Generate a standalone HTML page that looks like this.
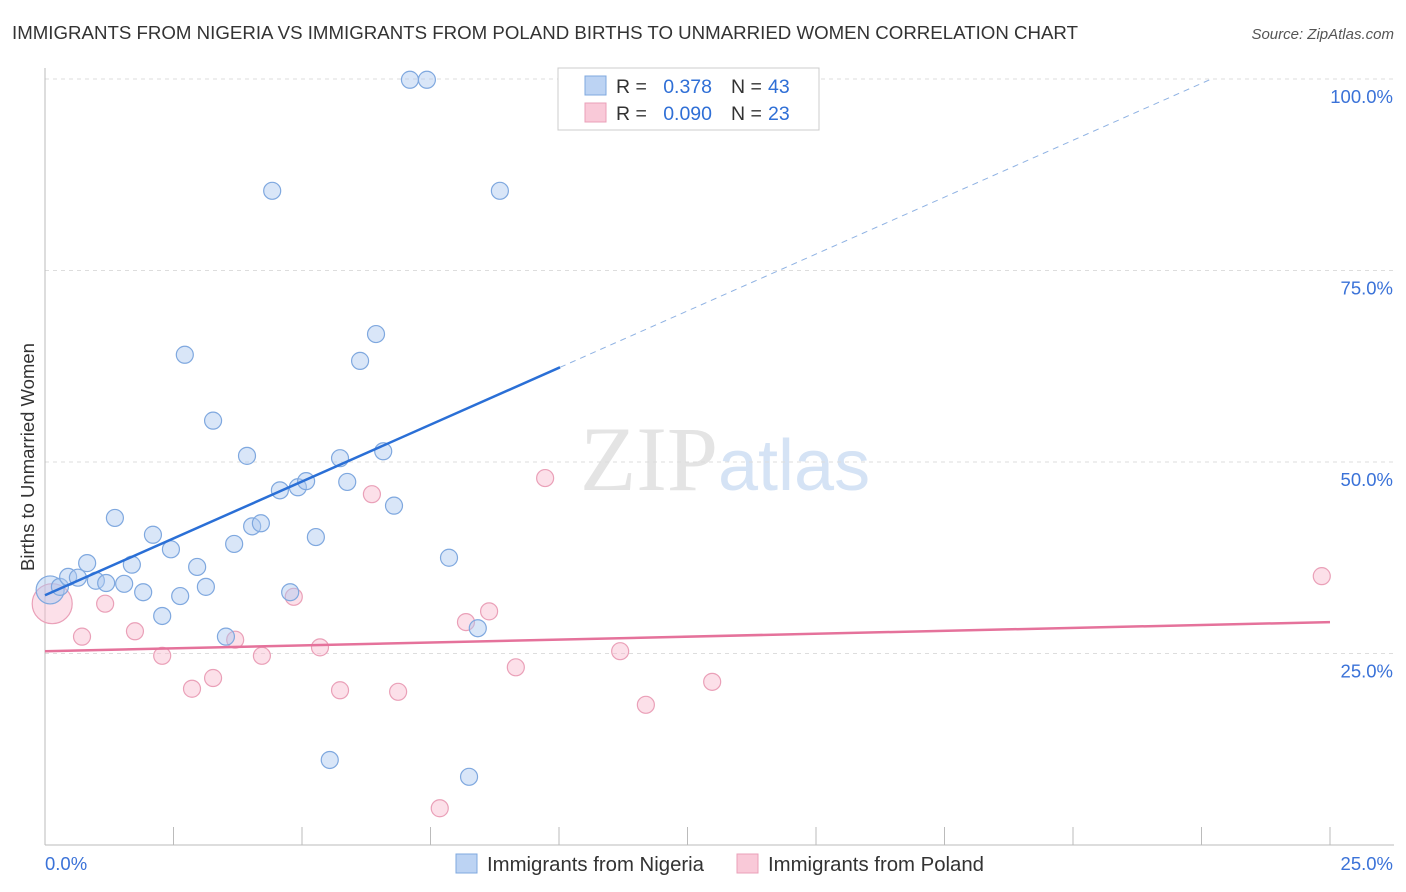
<!DOCTYPE html>
<html><head><meta charset="utf-8"><style>
body{margin:0;background:#fff;font-family:"Liberation Sans",sans-serif;}
svg{display:block}
</style></head><body>
<svg id="c" width="1406" height="892"></svg>
<script>
const nigeriaX=[0.10,0.29,0.45,0.64,0.82,0.99,1.19,1.36,1.54,1.69,1.91,2.10,2.28,2.45,2.63,2.72,2.96,3.13,3.27,3.52,3.68,3.93,4.03,4.20,4.42,4.57,4.77,4.92,5.08,5.27,5.54,5.74,5.88,6.13,6.44,6.58,6.79,7.10,7.43,7.86,8.25,8.42,8.85];
const nigeriaY=[33.3,33.7,35.0,34.9,36.8,34.5,34.2,42.7,34.1,36.6,33.0,40.5,29.9,38.6,32.5,64.0,36.3,33.7,55.4,27.2,39.3,50.8,41.6,42.0,85.4,46.3,33.0,46.7,47.5,40.2,11.1,50.5,47.4,63.2,66.7,51.4,44.3,99.9,99.9,37.5,8.9,28.3,85.4];
const polandX=[0.14,0.72,1.17,1.75,2.28,2.86,3.27,3.70,4.22,4.84,5.35,5.74,6.36,6.87,7.68,8.19,8.64,9.16,9.73,11.19,11.69,12.98,24.84];
const polandY=[31.5,27.2,31.5,27.9,24.7,20.4,21.8,26.8,24.7,32.4,25.8,20.2,45.8,20.0,4.8,29.1,30.5,23.2,47.9,25.3,18.3,21.3,35.1];
const yTicks=[25,50,75,100];
const yTickLabels=["25.0%","50.0%","75.0%","100.0%"];
const blueLine=[32.6,2.97]; // intercept, slope
const pinkLine=[25.3,29.1];

const NS="http://www.w3.org/2000/svg";
const svg=document.getElementById('c');
const X=v=>45+v/25*1285, Y=v=>845-v/100*766;
function el(t,a,txt){const e=document.createElementNS(NS,t);for(const k in a)e.setAttribute(k,a[k]);if(txt!==undefined)e.textContent=txt;svg.appendChild(e);return e;}
let e;
e=el('text',{x:12,y:39,'font-size':18.5,fill:'#333',textLength:1066,lengthAdjust:'spacingAndGlyphs'},'IMMIGRANTS FROM NIGERIA VS IMMIGRANTS FROM POLAND BIRTHS TO UNMARRIED WOMEN CORRELATION CHART');

e=el('text',{x:1394,y:39,'font-size':15,fill:'#555','font-style':'italic','text-anchor':'end'},'Source: ZipAtlas.com');

e=el('text',{x:718,y:490,'font-size':92,fill:'#e4e4e4','font-family':'Liberation Serif','text-anchor':'end'},'ZIP');

e=el('text',{x:718,y:490,'font-size':72,fill:'#d5e3f5'},'atlas');

yTicks.forEach((t,i)=>{
 e=el('line',{x1:45,x2:1394,y1:Y(t),y2:Y(t),stroke:'#ddd','stroke-dasharray':'4,4'});
 
 e=el('text',{x:1393,y:Y(t)+24,'font-size':18.5,fill:'#3a72d8','text-anchor':'end'},yTickLabels[i]);
 
});
e=el('line',{x1:45,x2:45,y1:68,y2:845,stroke:'#bbb'});
e=el('line',{x1:45,x2:1394,y1:845,y2:845,stroke:'#bbb'});
for(let i=1;i<=10;i++){e=el('line',{x1:X(i*2.5),x2:X(i*2.5),y1:827,y2:845,stroke:'#bbb'});}
e=el('text',{x:45,y:870,'font-size':18.5,fill:'#3a72d8'},'0.0%');
e=el('text',{x:1393,y:870,'font-size':18.5,fill:'#3a72d8','text-anchor':'end'},'25.0%');
e=el('text',{x:34,y:457,'font-size':18.5,fill:'#333','text-anchor':'middle',transform:'rotate(-90 34 457)'},'Births to Unmarried Women');

polandX.forEach((x,i)=>{const r=i==0?20:8.5;e=el('circle',{cx:X(x),cy:Y(polandY[i]),r:r,fill:'rgba(248,186,206,0.45)',stroke:'#eaa0b8','stroke-width':1.2});
 });
nigeriaX.forEach((x,i)=>{const r=i==0?14:8.5;e=el('circle',{cx:X(x),cy:Y(nigeriaY[i]),r:r,fill:'rgba(170,200,240,0.45)',stroke:'#7fa8df','stroke-width':1.2});
 });
const bx1=10.02, bx2=(100-blueLine[0])/blueLine[1];
e=el('line',{x1:X(0),y1:Y(blueLine[0]),x2:X(bx1),y2:Y(blueLine[0]+blueLine[1]*bx1),stroke:'#2a6fd6','stroke-width':2.5});

e=el('line',{x1:X(bx1),y1:Y(blueLine[0]+blueLine[1]*bx1),x2:X(bx2),y2:Y(100),stroke:'#8fb2e3','stroke-width':1,'stroke-dasharray':'6,5'});

e=el('line',{x1:X(0),y1:Y(pinkLine[0]),x2:X(25),y2:Y(pinkLine[1]),stroke:'#e5729b','stroke-width':2.5});

e=el('rect',{x:558,y:68,width:261,height:62,fill:'#fff',stroke:'#ccc'});
e=el('rect',{x:585,y:76,width:21,height:19,fill:'#bcd3f3',stroke:'#7fa8df'});
e=el('rect',{x:585,y:103,width:21,height:19,fill:'#f9c9d8',stroke:'#eaa0b8'});
[[93,'0.378','43'],[120,'0.090','23']].forEach(r=>{
 e=el('text',{x:616,y:r[0],'font-size':19.5,fill:'#333'},'R = ');
 e=el('text',{x:712,y:r[0],'font-size':19.5,fill:'#2f6fd6','text-anchor':'end'},r[1]);
 e=el('text',{x:731,y:r[0],'font-size':19.5,fill:'#333'},'N = ');
 e=el('text',{x:768,y:r[0],'font-size':19.5,fill:'#2f6fd6'},r[2]);
});
e=el('rect',{x:456,y:854,width:21,height:19,fill:'#bcd3f3',stroke:'#7fa8df'});
e=el('text',{x:487,y:871,'font-size':20,fill:'#333',textLength:217,lengthAdjust:'spacingAndGlyphs'},'Immigrants from Nigeria');
e=el('rect',{x:737,y:854,width:21,height:19,fill:'#f9c9d8',stroke:'#eaa0b8'});
e=el('text',{x:768,y:871,'font-size':20,fill:'#333',textLength:216,lengthAdjust:'spacingAndGlyphs'},'Immigrants from Poland');
</script>
</body></html>
